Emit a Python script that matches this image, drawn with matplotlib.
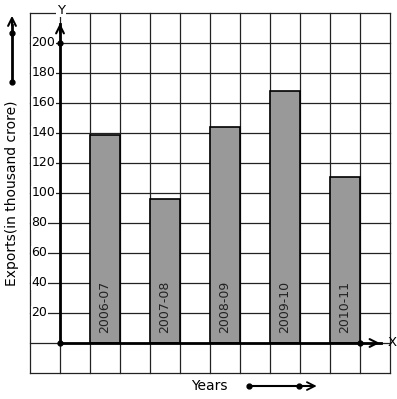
import matplotlib.pyplot as plt
import numpy as np

years = ["2006-07", "2007-08", "2008-09", "2009-10", "2010-11"]
exports = [139, 96, 144, 168, 111]
bar_pos = [1, 3, 5, 7, 9]
y_ticks = [20, 40, 60, 80, 100, 120, 140, 160, 180, 200]

W, H = 397, 399
fig = plt.figure(figsize=(W / 100, H / 100), dpi=100)
# grid area in pixels: x 30..390, y 13..373
ax = fig.add_axes([30 / W, (H - 373) / H, 360 / W, 360 / H])
ax.set_xlim(-1, 11)
ax.set_ylim(-20, 220)
ax.axis('off')

# squared paper
for gx in range(-1, 12):
    ax.plot([gx, gx], [-20, 220], color='#222222', lw=0.9, zorder=1, clip_on=False)
for gy in range(-20, 221, 20):
    ax.plot([-1, 11], [gy, gy], color='#222222', lw=0.9, zorder=1, clip_on=False)

ax.bar(bar_pos, exports, width=1, align='edge', color='#999999',
       edgecolor='black', linewidth=1.2, zorder=2)

for x, lab in zip(bar_pos, years):
    ax.text(x + 0.5, 6.5, lab, rotation=90, ha='center', va='bottom',
            fontsize=9, color='#222222', zorder=3)

# axes with arrows
ax.plot([0, 0], [0, 213], color='black', lw=2, zorder=4, clip_on=False)
ax.plot([0, 10.7], [0, 0], color='black', lw=2, zorder=4, clip_on=False)
ax.annotate('', xy=(0, 215), xytext=(0, 205),
            arrowprops=dict(arrowstyle='->', lw=1.5, color='black', mutation_scale=14),
            zorder=4, annotation_clip=False)
ax.annotate('', xy=(10.75, 0), xytext=(10.4, 0),
            arrowprops=dict(arrowstyle='->', lw=1.5, color='black', mutation_scale=14),
            zorder=4, annotation_clip=False)
ax.plot([0, 0, 10], [0, 200, 0], 'o', color='black', ms=3.5, zorder=5, clip_on=False)
ax.text(0.03, 222, 'Y', ha='center', va='center', fontsize=9.5,
        bbox=dict(facecolor='white', edgecolor='none', pad=0.5), zorder=5)
ax.text(10.93, 0, 'X', ha='left', va='center', fontsize=9.5, zorder=5)

# tick labels with white background over the grid lines
for t in y_ticks:
    ax.text(-0.95, t, str(t), ha='left', va='center', fontsize=9,
            bbox=dict(facecolor='white', edgecolor='none', pad=0.3), zorder=3)

ax.text(-1.6, 100, 'Exports(in thousand crore)', rotation=90, ha='center',
        va='center', fontsize=10, clip_on=False)
ax.text(4.97, -28.5, 'Years', ha='center', va='center', fontsize=10, clip_on=False)

# direction arrows beside the labels
ax.plot([-1.6, -1.6], [174, 212], color='black', lw=2, clip_on=False)
ax.plot([-1.6, -1.6], [174, 207], 'o', color='black', ms=3.5, clip_on=False)
ax.annotate('', xy=(-1.6, 220), xytext=(-1.6, 210),
            arrowprops=dict(arrowstyle='->', lw=1.5, color='black', mutation_scale=14),
            annotation_clip=False)
ax.plot([6.3, 8.4], [-28.7, -28.7], color='black', lw=1.5, clip_on=False)
ax.plot([6.3, 7.97], [-28.7, -28.7], 'o', color='black', ms=3.5, clip_on=False)
ax.annotate('', xy=(8.65, -28.7), xytext=(8.2, -28.7),
            arrowprops=dict(arrowstyle='->', lw=1.3, color='black', mutation_scale=14),
            annotation_clip=False)

fig.savefig('out.png', dpi=100)
